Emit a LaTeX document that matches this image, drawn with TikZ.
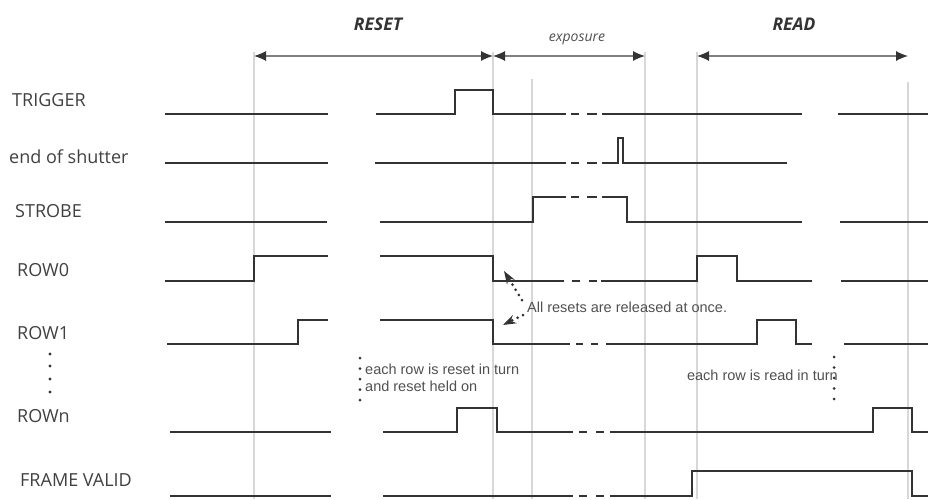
\documentclass[tikz,border=0pt]{standalone}
\usepackage{fontspec}
\setmainfont{Open Sans}
\newfontfamily\notefont{Liberation Sans}
\usepackage{tikz}
\usetikzlibrary{arrows.meta}
\definecolor{sigcol}{HTML}{333333}
\definecolor{gridcol}{HTML}{D8D8D8}
\definecolor{txtcol}{HTML}{404040}
\definecolor{notecol}{HTML}{505050}
\tikzset{
  every picture/.style={line join=miter, >=Latex},
  sig/.style={draw=sigcol, line width=2.4pt},
  mark line/.style={draw=gridcol, line width=1.1pt},
  span/.style={draw=gray, line width=1.1pt, {Latex[length=12pt,width=10pt,color=sigcol]}-{Latex[length=12pt,width=10pt,color=sigcol]}},
  lbl/.style={anchor=west, inner sep=0pt, text=txtcol, font=\fontsize{18}{20}\selectfont},
  note/.style={anchor=west, inner sep=0pt, text=notecol, align=left, font=\notefont\fontsize{14.5}{16.5}\selectfont},
  dotline/.style={draw=sigcol, line width=3pt, line cap=round, dash pattern=on 0pt off 10.5pt},
  dotarrow/.style={draw=sigcol, line width=3pt, line cap=round, dash pattern=on 0pt off 6pt, -{Stealth[length=13pt,width=9pt]}},
}

\begin{document}
\begin{tikzpicture}[x=1pt, y=-1pt]
\useasboundingbox (0,0) rectangle (928,499);
% marker lines
\coordinate (m1) at (254,56);
\coordinate (m2) at (493,56);
\coordinate (m3) at (532,79);
\coordinate (m4) at (645,56);
\coordinate (m5) at (697,56);
\coordinate (m6) at (908,56);
\foreach \m in {m1,m2,m4,m5} \draw[mark line] (\m) ++(0,-4) -- (\m |- 0,499);
\draw[mark line] (m3) -- (m3 |- 0,499);
\draw[mark line] (908,82) -- (908,499);
% phases
\draw[span] (m1) -- (m2);
\draw[span] (m2) -- (m4);
\draw[span] (m5) -- (m6);
\node[inner sep=0pt, font=\bfseries\itshape\fontsize{17.5}{20}\selectfont, text=sigcol] (reset) at (378,24) {RESET};
\node[inner sep=0pt, font=\itshape\fontsize{14}{16}\selectfont, text=notecol] (expo) at (577,39) {exposure};
\node[inner sep=0pt, font=\bfseries\itshape\fontsize{17.5}{20}\selectfont, text=sigcol] (read) at (794,24) {READ};
% signal names
\node[lbl] (trig) at (12,100) {TRIGGER};
\node[lbl] (eos) at (9,157) {end of shutter};
\node[lbl] (strobe) at (15,211) {STROBE};
\node[lbl] (row0) at (17,270) {ROW0};
\node[lbl] (row1) at (17,333.5) {ROW1};
\node[lbl] (rown) at (17,416.5) {ROWn};
\node[lbl] (fval) at (20,480) {FRAME VALID};
\foreach \y in {354,366,379,392} \fill[sigcol] (50,\y) circle (1.6);
% TRIGGER
\draw[sig] (165,114) -- (328,114);
\draw[sig] (376,114) -- (455,114) -- (455,90) -- (493,90) -- (493,114) -- (566,114)
  (571,114) -- (579,114) (587,114) -- (597,114) (602,114) -- (802,114);
\draw[sig] (838,114) -- (928,114);
% end of shutter
\draw[sig] (165,163) -- (328,163);
\draw[sig] (375,163) -- (566,163) (571,163) -- (579,163) (587,163) -- (597,163)
  (602,163) -- (618,163) -- (618,138) -- (623,138) -- (623,163) -- (787,163);
% STROBE
\draw[sig] (165,222) -- (327,222);
\draw[sig] (380,222) -- (533,222) -- (533,197) -- (566,197) (571,197) -- (579,197)
  (587,197) -- (597,197) (602,197) -- (627,197) -- (627,222) -- (802,222);
\draw[sig] (840,222) -- (928,222);
% ROW0
\draw[sig] (165,281) -- (254,281) -- (254,256) -- (328,256);
\draw[sig] (380,256) -- (493,256) -- (493,281) -- (564,281) (572,281) -- (580,281)
  (589,281) -- (597,281) (601,281) -- (697,281) -- (697,256) -- (737,256) -- (737,281) -- (812,281);
\draw[sig] (841,281) -- (928,281);
% ROW1
\draw[sig] (167,344) -- (298,344) -- (298,320) -- (328,320);
\draw[sig] (380,320) -- (493,320) -- (493,344) -- (570,344) (576,344) -- (583,344)
  (591,344) -- (598,344) (606,344) -- (757,344) -- (757,320) -- (796,320) -- (796,344) -- (812,344);
\draw[sig] (844,344) -- (928,344);
% ROWn
\draw[sig] (170,432) -- (331,432);
\draw[sig] (383,432) -- (457,432) -- (457,408) -- (497,408) -- (497,432) -- (573,432)
  (579,432) -- (587,432) (596,432) -- (604,432) (610,432) -- (873,432) -- (873,408) -- (912,408) -- (912,432) -- (928,432);
% FRAME VALID
\draw[sig] (170,496) -- (331,496);
\draw[sig] (383,496) -- (573,496) (579,496) -- (587,496) (596,496) -- (604,496)
  (610,496) -- (692,496) -- (692,471) -- (912,471) -- (912,496) -- (928,496);
% notes
\node[note] (held) at (365,378) {each row is reset in turn\\and reset held on};
\coordinate (held top) at (360,358);
\coordinate (held bot) at (360,403);
\draw[dotline] (held top) -- (held bot);
\node[note, anchor=east] (readturn) at (838,375) {each row is read in turn};
\coordinate (read top) at (834,357);
\coordinate (read bot) at (834,403);
\draw[dotline] (read top) -- (read bot);
\node[note] (release) at (527,307) {All resets are released at once.};
\coordinate (rel a) at (522,300);
\coordinate (rel b) at (523,315);
\coordinate (row0 edge) at (504,271);
\coordinate (row1 edge) at (503,325);
\draw[dotarrow] (rel a) -- (row0 edge);
\draw[dotarrow] (rel b) -- (row1 edge);
\end{tikzpicture}
\end{document}
